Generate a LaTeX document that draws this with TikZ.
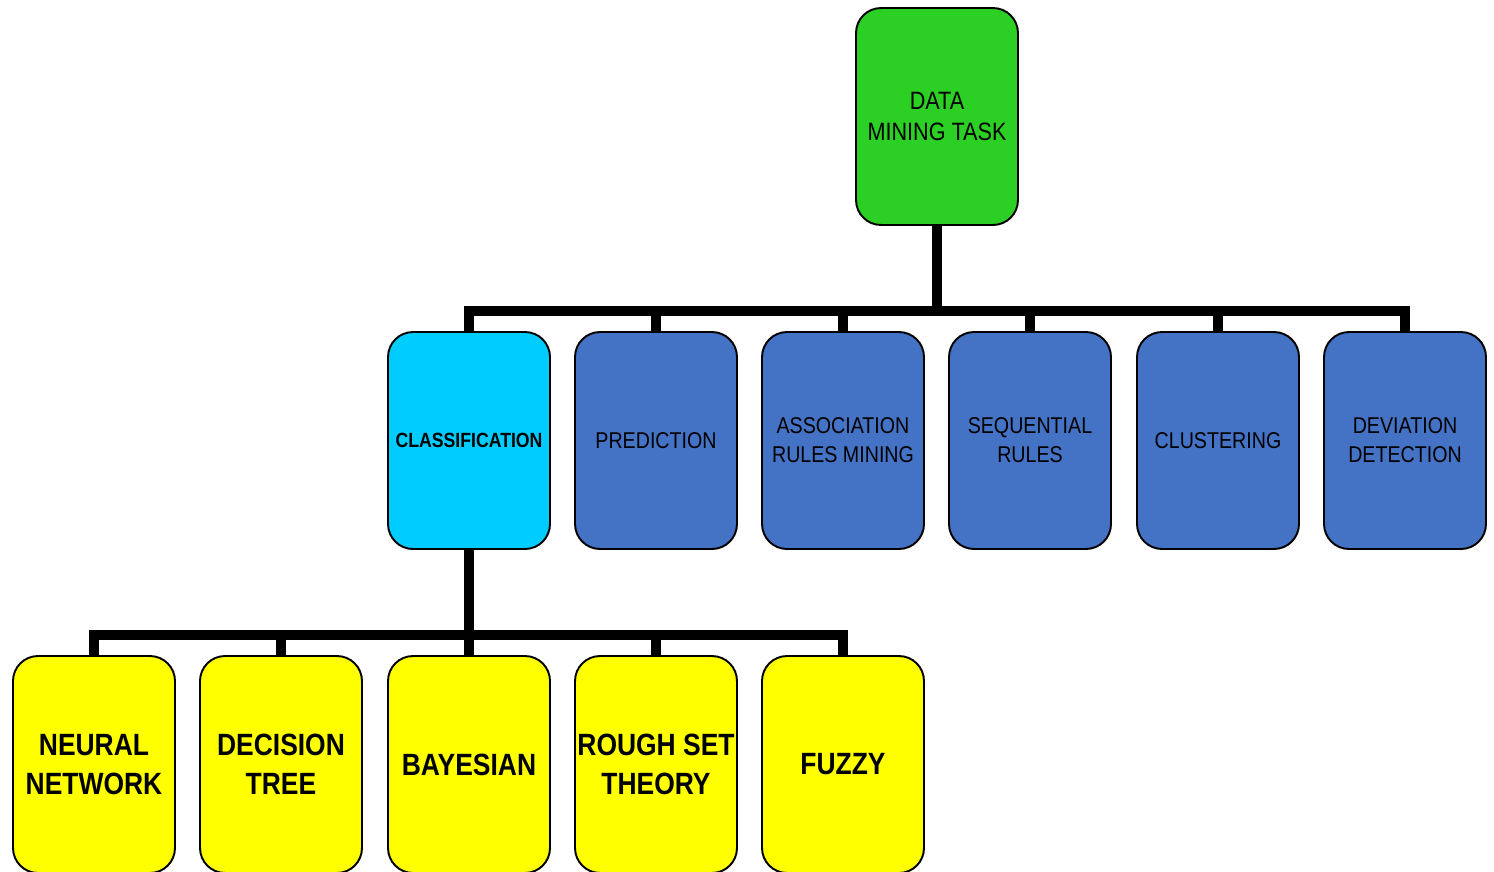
\documentclass[tikz,border=0pt]{standalone}
\usepackage{fontspec}
\setmainfont{Liberation Sans}[FakeStretch=0.86]
\begin{document}
\begin{tikzpicture}[x=0.02cm,y=-0.02cm,
  box/.style={draw=black,line width=1.1pt,rounded corners=0.5cm,
    minimum width=3.24cm,minimum height=4.34cm,inner sep=0pt,
    align=center,text=black},
  rootbox/.style={box,fill=rootgreen,font=\fontsize{14.3}{17.6}\selectfont},
  taskbox/.style={box,fill=taskblue,font=\fontsize{13}{16.4}\selectfont},
  classbox/.style={box,fill=classcyan,font=\bfseries\fontsize{11.7}{14}\selectfont},
  methodbox/.style={box,fill=methodyellow,font=\bfseries\fontsize{17.5}{22}\selectfont},
  conn/.style={draw=black,line width=6pt,line join=miter},
  drop/.style={draw=black,line width=5.6pt}]
\definecolor{rootgreen}{RGB}{44,208,36}
\definecolor{taskblue}{RGB}{68,114,196}
\definecolor{classcyan}{RGB}{0,204,255}
\definecolor{methodyellow}{RGB}{255,255,0}
\useasboundingbox (0,0) rectangle (1494,872);

% bus heights
\coordinate (bus1) at (0,311);
\coordinate (bus2) at (0,635);

% connectors (drawn first, boxes on top)
\coordinate (rootS) at (937,225);
\coordinate (clsN) at (469,332);
\coordinate (clsS) at (469,549);

\node[rootbox] (root) at (937,116.5) {DATA\\MINING TASK};

\node[classbox] (cls) at (469,440.5) {CLASSIFICATION};
\node[taskbox] (pred) at (656,440.5) {PREDICTION};
\node[taskbox] (assoc) at (843,440.5) {ASSOCIATION\\RULES MINING};
\node[taskbox] (seq) at (1030,440.5) {SEQUENTIAL\\RULES};
\node[taskbox] (clu) at (1218,440.5) {CLUSTERING};
\node[taskbox] (dev) at (1405,440.5) {DEVIATION\\DETECTION};

\node[methodbox] (nn) at (94,764.5) {NEURAL\\NETWORK};
\node[methodbox] (dt) at (281,764.5) {DECISION\\TREE};
\node[methodbox] (bay) at (469,764.5) {BAYESIAN};
\node[methodbox] (rst) at (656,764.5) {ROUGH SET\\THEORY};
\node[methodbox] (fz) at (843,764.5) {FUZZY};

% first level tree
\draw[conn] (cls.north) -- (cls.north |- bus1) -- (dev.north |- bus1) -- (dev.north);
\draw[drop] (root.south) -- (root.south |- bus1);
\foreach \n in {pred,assoc,seq,clu}
  \draw[drop] (\n.north |- bus1) -- (\n.north);

% second level tree
\draw[conn] (nn.north) -- (nn.north |- bus2) -- (fz.north |- bus2) -- (fz.north);
\draw[drop] (cls.south) -- (cls.south |- bus2);
\foreach \n in {dt,bay,rst}
  \draw[drop] (\n.north |- bus2) -- (\n.north);
\end{tikzpicture}
\end{document}
